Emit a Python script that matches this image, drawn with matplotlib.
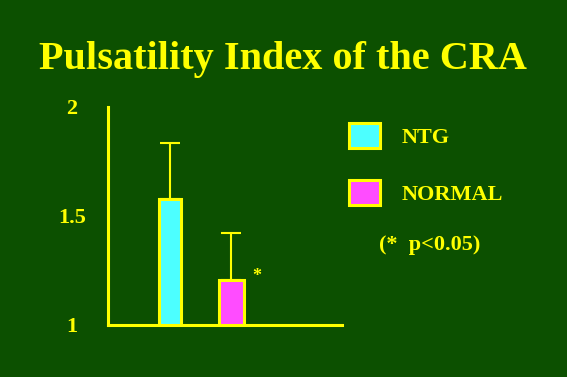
import matplotlib
matplotlib.use("Agg")
import matplotlib.pyplot as plt

# Pulsatility index of the central retinal artery
groups = ["NTG", "NORMAL"]
means = [1.58, 1.205]
sd = [0.255, 0.215]
y_ticks = [1, 1.5, 2]
y_labels = ["1", "1.5", "2"]

bg = "#0c5000"
yellow = "#ffff00"
colors = ["#4cffff", "#ff4cff"]
serif = ["Liberation Serif", "DejaVu Serif"]

plt.rcParams["font.family"] = serif
plt.rcParams["font.weight"] = "bold"

W, H = 567, 377
fig = plt.figure(figsize=(W / 100, H / 100), dpi=100, facecolor=bg)
ax = fig.add_axes([108 / W, (H - 325) / H, 234 / W, 218 / H], facecolor=bg)

x = list(range(len(groups)))
ax.errorbar(x, means, yerr=[[0, 0], sd], fmt="none", ecolor=yellow,
            elinewidth=1.5, capsize=7, capthick=1.5, zorder=1)
bars = ax.bar(x, means, width=[0.37, 0.42], color=colors, edgecolor=yellow,
              linewidth=2.2, label=groups, zorder=2)

ax.set_xlim(-1.008, 2.797)
ax.set_ylim(1, 2)
ax.set_xticks([])
ax.set_yticks(y_ticks)
ax.set_yticklabels(y_labels, fontsize=16, color=yellow, fontweight="bold", ha="center")
ax.tick_params(axis="y", length=0, pad=26)

for s in ["top", "right"]:
    ax.spines[s].set_visible(False)
for s in ["left", "bottom"]:
    ax.spines[s].set_color(yellow)
    ax.spines[s].set_linewidth(2.2)

# significance star next to NORMAL bar
ax.annotate("*", xy=(1, means[1]), xytext=(18, 3), textcoords="offset points",
            ha="center", va="center", color=yellow, fontsize=13, fontweight="bold")

leg = ax.legend(handles=list(bars), labels=groups, loc="upper left",
                bbox_to_anchor=(349 / W, 1 - 123 / H), bbox_transform=fig.transFigure,
                frameon=False, fontsize=16, handlelength=1.4, handleheight=1.35,
                handletextpad=0.95, labelspacing=1.45, borderpad=0, borderaxespad=0)
for t in leg.get_texts():
    t.set_color(yellow)
    t.set_fontweight("bold")

fig.text(379 / W, 1 - 245 / H, "(*  p<0.05)", ha="left", va="center",
         color=yellow, fontsize=16, fontweight="bold")

fig.text(283 / W, 1 - 69 / H, "Pulsatility Index of the CRA", ha="center", va="baseline",
         color=yellow, fontsize=29, fontweight="bold")

fig.savefig("out.png", dpi=100, facecolor=bg)
